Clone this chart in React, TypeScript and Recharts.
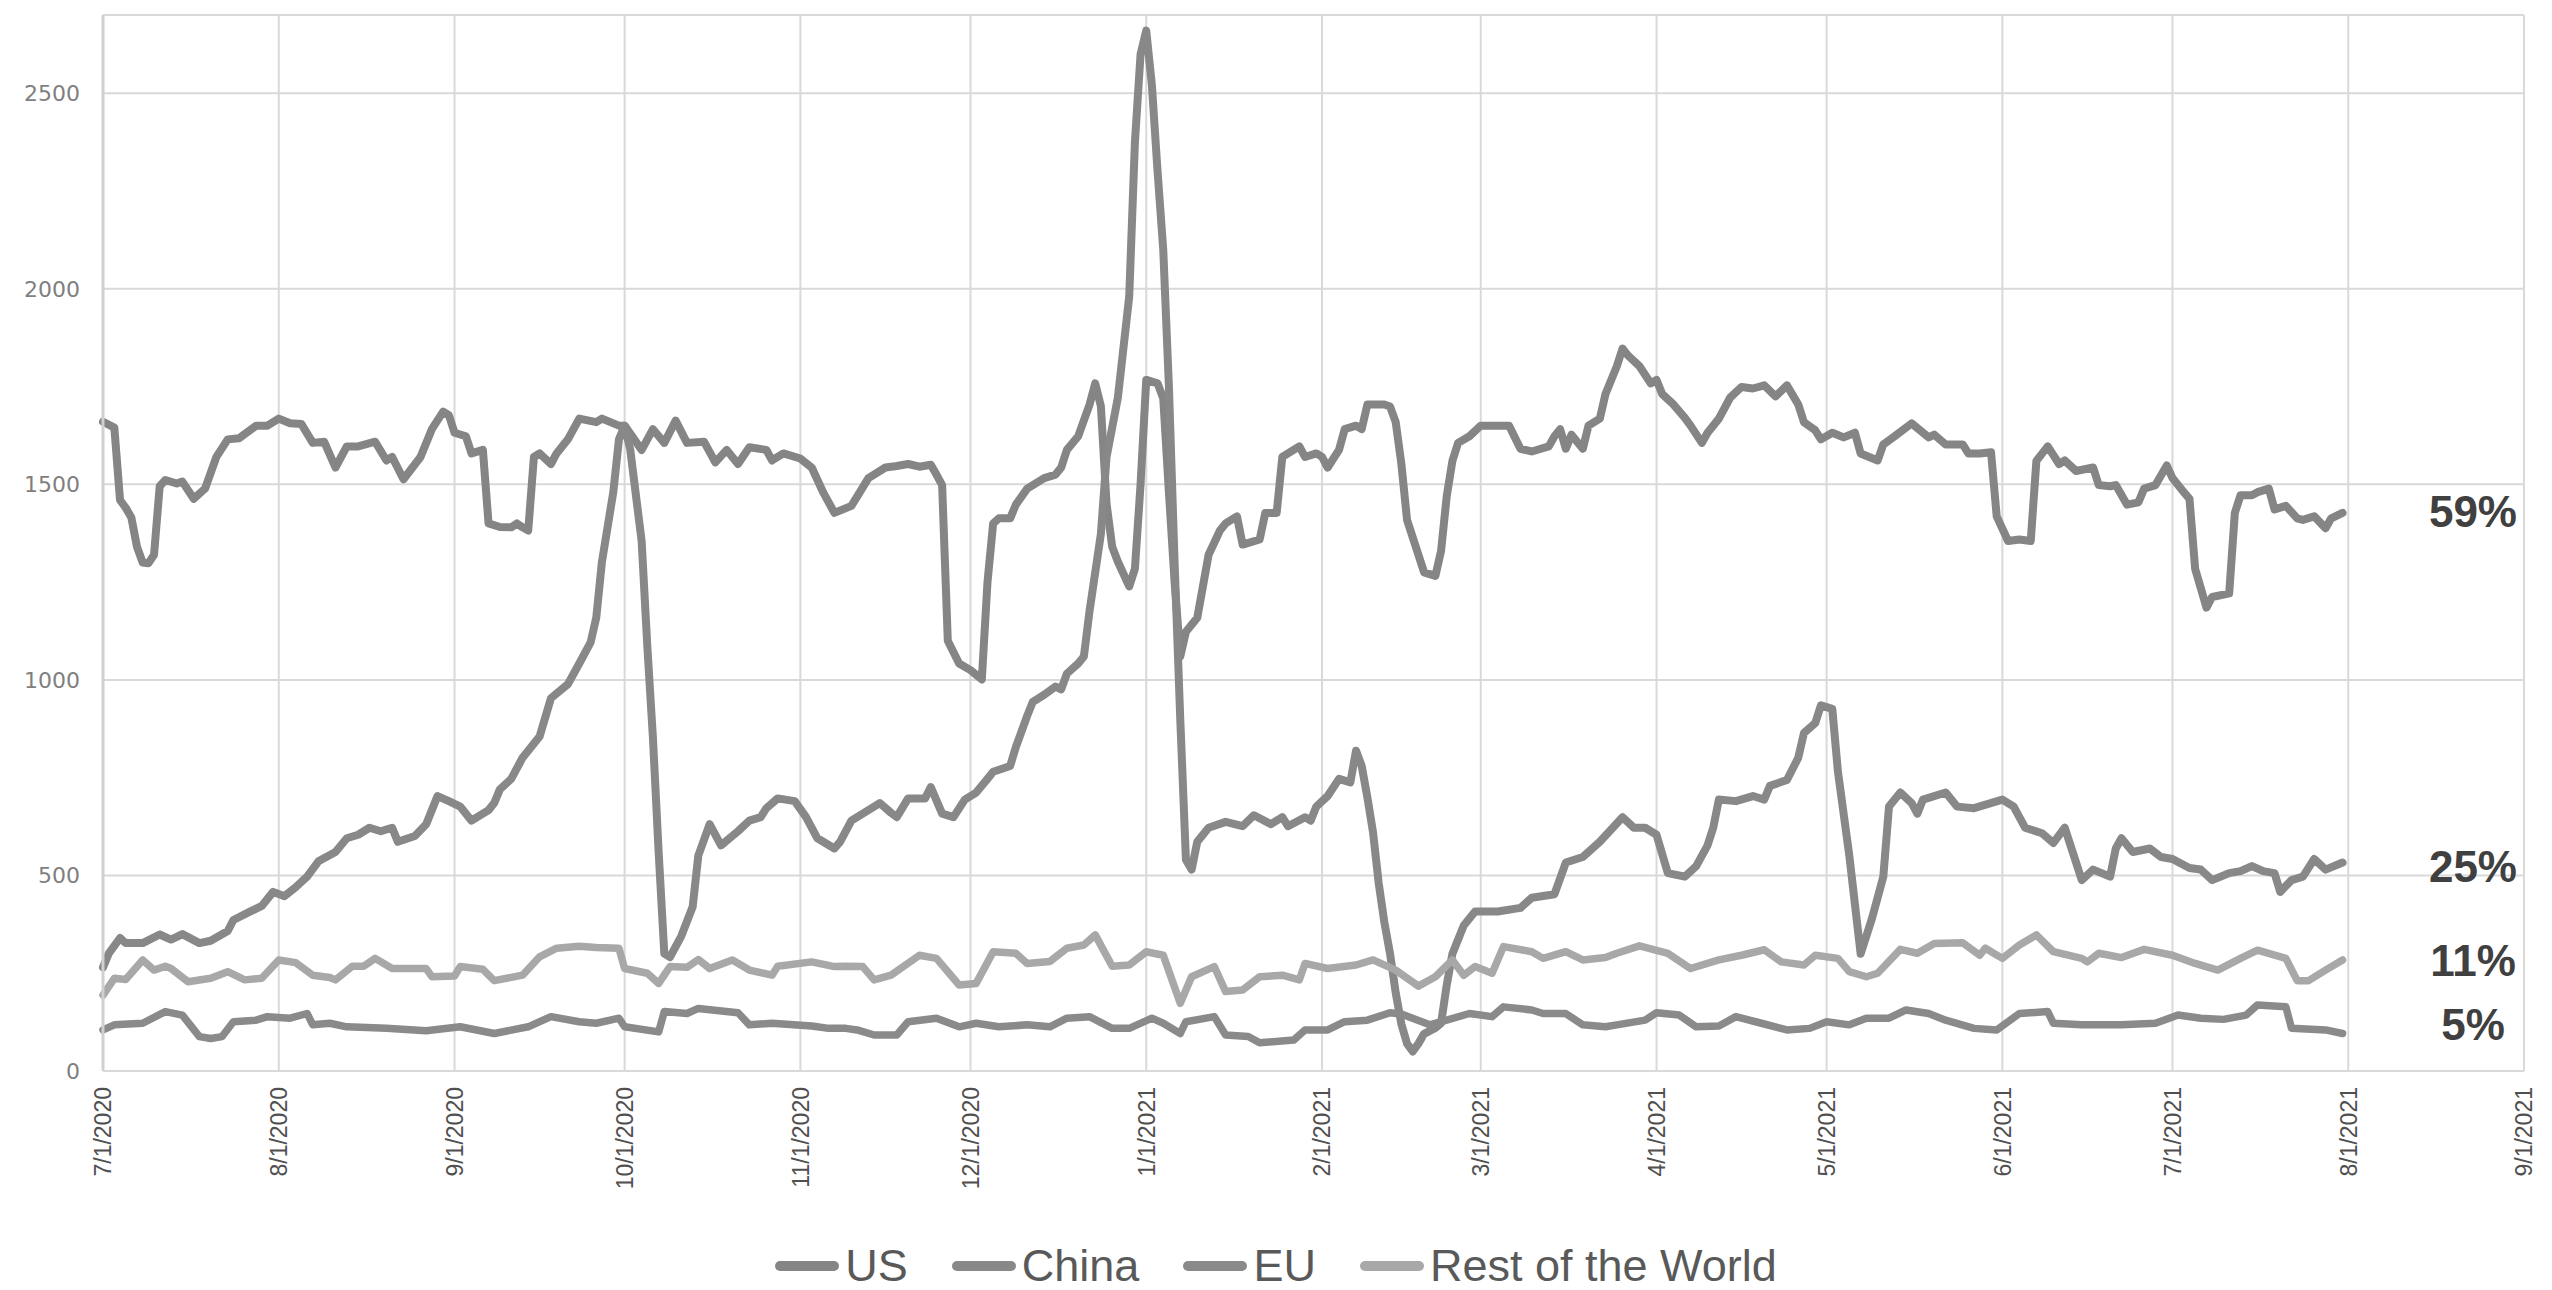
import { CartesianGrid, Line, LineChart, ReferenceDot, XAxis, YAxis } from 'recharts';

// x values are days since 7/1/2020
const TICK_DAYS = [0, 31, 62, 92, 123, 153, 184, 215, 243, 274, 304, 335, 365, 396, 427];
const TICK_LABELS = [
  '7/1/2020', '8/1/2020', '9/1/2020', '10/1/2020', '11/1/2020', '12/1/2020', '1/1/2021',
  '2/1/2021', '3/1/2021', '4/1/2021', '5/1/2021', '6/1/2021', '7/1/2021', '8/1/2021', '9/1/2021',
];
const Y_TICKS = [0, 500, 1000, 1500, 2000, 2500];

const US_POINTS: [number, number][] = [
  [0, 1660], [2, 1645], [3, 1460], [4, 1440], [5, 1415], [6, 1340], [7, 1300], [8, 1298], [9, 1320],
  [10, 1495], [11, 1511], [13, 1502], [14, 1507], [16, 1463], [18, 1489], [20, 1570], [22, 1615],
  [24, 1618], [27, 1650], [29, 1650], [31, 1668], [33, 1656], [35, 1654], [37, 1606], [39, 1609],
  [41, 1543], [43, 1597], [45, 1597], [48, 1609], [50, 1561], [51, 1570], [53, 1513], [56, 1570],
  [58, 1641], [60, 1686], [61, 1677], [62, 1632], [64, 1623], [65, 1579], [67, 1588], [68, 1400],
  [70, 1391], [72, 1390], [73, 1400], [74, 1390], [75, 1382], [76, 1570], [77, 1579], [79, 1552],
  [80, 1579], [82, 1615], [84, 1668], [87, 1659], [88, 1668], [91, 1650], [92, 1650], [95, 1588],
  [97, 1641], [99, 1606], [101, 1663], [103, 1606], [106, 1609], [108, 1556], [110, 1588], [112, 1552],
  [114, 1595], [117, 1588], [118, 1561], [120, 1579], [123, 1566], [125, 1543], [127, 1480], [129, 1427],
  [132, 1445], [135, 1516], [138, 1543], [140, 1547], [142, 1552], [144, 1545], [146, 1550], [147, 1525],
  [148, 1498], [149, 1100], [151, 1042], [153, 1025], [155, 1001], [156, 1250], [157, 1400], [158, 1413],
  [160, 1413], [161, 1448], [163, 1489], [166, 1516], [168, 1525], [169, 1543], [170, 1588], [172, 1623],
  [174, 1704], [175, 1758], [176, 1700], [177, 1450], [178, 1340], [179, 1302], [181, 1239], [182, 1284],
  [183, 1500], [184, 1767], [186, 1758], [187, 1720], [188, 1480], [189, 1250], [190, 1060], [191, 1123],
  [193, 1159], [195, 1320], [197, 1382], [198, 1400], [200, 1418], [201, 1346], [204, 1359], [205, 1427],
  [207, 1427], [208, 1570], [210, 1588], [211, 1597], [212, 1570], [214, 1579], [215, 1570], [216, 1543],
  [218, 1588], [219, 1641], [221, 1650], [222, 1641], [223, 1704], [226, 1704], [227, 1699], [228, 1659],
  [229, 1552], [230, 1409], [232, 1320], [233, 1275], [235, 1266], [236, 1330], [237, 1470], [238, 1560],
  [239, 1606], [241, 1623], [243, 1650], [248, 1650], [250, 1591], [252, 1584], [255, 1597], [256, 1623],
  [257, 1641], [258, 1591], [259, 1627], [261, 1591], [262, 1650], [264, 1668], [265, 1731], [267, 1802],
  [268, 1847], [269, 1829], [271, 1802], [273, 1758], [274, 1767], [275, 1731], [277, 1704], [279, 1670],
  [280, 1650], [282, 1606], [283, 1632], [285, 1668], [287, 1722], [289, 1749], [291, 1745], [293, 1753],
  [295, 1725], [297, 1753], [299, 1704], [300, 1659], [302, 1638], [303, 1615], [305, 1632], [307, 1620],
  [309, 1632], [310, 1579], [313, 1561], [314, 1602], [316, 1623], [319, 1656], [322, 1620], [323, 1627],
  [325, 1602], [328, 1602], [329, 1579], [331, 1579], [333, 1582], [334, 1418], [336, 1355], [338, 1359],
  [340, 1355], [341, 1560], [343, 1597], [345, 1552], [346, 1561], [348, 1534], [351, 1543], [352, 1498],
  [354, 1495], [355, 1498], [357, 1448], [359, 1454], [360, 1489], [362, 1498], [364, 1548], [365, 1516],
  [367, 1480], [368, 1463], [369, 1284], [371, 1185], [372, 1212], [375, 1221], [376, 1427], [377, 1472],
  [379, 1472], [380, 1480], [382, 1489], [383, 1436], [385, 1445], [387, 1413], [388, 1409], [390, 1418],
  [392, 1388], [393, 1413], [395, 1427],
];

const CHINA_POINTS: [number, number][] = [
  [0, 265], [1, 300], [3, 340], [4, 327], [7, 327], [10, 349], [12, 336], [14, 350], [17, 327], [19, 333],
  [22, 358], [23, 386], [26, 408], [28, 422], [30, 458], [32, 447], [34, 470], [36, 497], [38, 536],
  [41, 560], [43, 595], [45, 604], [47, 622], [49, 613], [51, 622], [52, 586], [55, 601], [57, 631],
  [59, 703], [61, 690], [63, 676], [65, 640], [68, 667], [69, 685], [70, 720], [72, 747], [74, 801],
  [77, 855], [79, 953], [82, 989], [84, 1042], [86, 1096], [87, 1159], [88, 1302], [90, 1480], [91, 1615],
  [92, 1650], [93, 1588], [95, 1355], [96, 1087], [97, 850], [98, 560], [99, 300], [100, 291], [102, 345],
  [104, 420], [105, 551], [107, 631], [109, 577], [112, 613], [114, 640], [116, 649], [117, 672],
  [119, 697], [122, 690], [124, 649], [126, 595], [129, 569], [130, 586], [132, 640], [135, 667],
  [137, 685], [139, 660], [140, 649], [142, 697], [145, 697], [146, 726], [148, 658], [150, 649],
  [152, 694], [154, 712], [156, 747], [157, 765], [160, 780], [161, 828], [163, 908], [164, 944],
  [166, 962], [168, 983], [169, 976], [170, 1016], [172, 1042], [173, 1060], [174, 1176], [176, 1373],
  [177, 1570], [179, 1722], [181, 1981], [182, 2374], [183, 2600], [184, 2660], [185, 2520], [186, 2300],
  [187, 2100], [188, 1750], [189, 1300], [190, 900], [191, 540], [192, 515], [193, 586], [195, 622],
  [198, 637], [201, 626], [203, 654], [206, 631], [208, 649], [209, 626], [212, 649], [213, 640],
  [214, 676], [216, 703], [218, 747], [220, 738], [221, 819], [222, 780], [223, 700], [224, 610],
  [225, 480], [226, 380], [227, 300], [228, 200], [229, 120], [230, 70], [231, 50], [232, 70], [233, 95],
  [235, 110], [236, 122], [237, 220], [238, 300], [240, 372], [242, 408], [246, 408], [250, 417],
  [252, 443], [256, 452], [258, 533], [261, 547], [264, 586], [268, 649], [270, 622], [272, 622],
  [274, 604], [276, 506], [279, 497], [281, 524], [283, 577], [284, 622], [285, 694], [288, 690],
  [291, 703], [293, 694], [294, 729], [297, 744], [299, 801], [300, 864], [302, 890], [303, 935],
  [305, 926], [306, 765], [308, 551], [310, 300], [312, 390], [314, 497], [315, 676], [317, 712],
  [319, 685], [320, 658], [321, 694], [325, 712], [327, 676], [330, 672], [335, 694], [337, 676],
  [339, 622], [342, 608], [344, 583], [346, 622], [348, 533], [349, 488], [351, 515], [354, 497],
  [355, 569], [356, 595], [358, 560], [361, 569], [363, 547], [365, 542], [368, 519], [370, 515],
  [372, 488], [375, 506], [377, 511], [379, 524], [381, 511], [383, 506], [384, 458], [386, 488],
  [388, 497], [390, 542], [392, 515], [395, 533],
];

const EU_POINTS: [number, number][] = [
  [0, 105], [2, 118], [7, 122], [11, 152], [14, 143], [17, 88], [19, 83], [21, 88], [23, 126], [27, 130],
  [29, 139], [33, 135], [36, 147], [37, 118], [40, 122], [43, 113], [50, 109], [57, 103], [63, 113],
  [69, 96], [75, 113], [79, 139], [84, 126], [87, 122], [91, 135], [92, 113], [98, 100], [99, 152],
  [103, 147], [105, 160], [112, 149], [114, 118], [118, 122], [125, 115], [128, 109], [131, 109],
  [133, 105], [136, 92], [140, 92], [142, 126], [147, 135], [151, 113], [154, 122], [158, 113],
  [163, 118], [167, 113], [170, 135], [174, 139], [178, 109], [181, 109], [185, 135], [187, 122],
  [190, 96], [191, 126], [196, 139], [198, 92], [202, 88], [204, 72], [210, 79], [212, 105], [216, 105],
  [219, 126], [223, 130], [227, 149], [229, 146], [234, 118], [237, 130], [241, 147], [245, 139],
  [247, 164], [252, 156], [254, 147], [258, 147], [261, 118], [265, 113], [267, 118], [272, 130],
  [274, 149], [278, 143], [281, 113], [285, 115], [288, 139], [292, 124], [297, 105], [301, 109],
  [304, 126], [308, 118], [311, 135], [315, 135], [318, 156], [322, 147], [325, 130], [330, 109],
  [334, 105], [338, 147], [343, 152], [344, 122], [349, 118], [356, 118], [362, 122], [366, 143],
  [370, 135], [374, 132], [378, 143], [380, 169], [385, 164], [386, 109], [392, 105], [395, 96],
];

const ROW_POINTS: [number, number][] = [
  [0, 194], [2, 237], [4, 234], [7, 284], [9, 258], [11, 268], [12, 262], [15, 228], [19, 237], [22, 254],
  [25, 233], [28, 237], [31, 284], [34, 277], [37, 245], [40, 239], [41, 233], [44, 268], [46, 268],
  [48, 288], [51, 262], [57, 262], [58, 241], [62, 243], [63, 267], [67, 260], [69, 231], [74, 245],
  [77, 292], [80, 314], [84, 319], [87, 316], [91, 314], [92, 262], [96, 250], [98, 224], [100, 267],
  [103, 265], [105, 285], [107, 262], [111, 284], [114, 258], [118, 245], [119, 268], [125, 279],
  [129, 267], [131, 268], [134, 267], [136, 233], [139, 245], [144, 296], [147, 288], [151, 220],
  [154, 224], [157, 305], [161, 301], [163, 275], [167, 280], [170, 314], [173, 322], [175, 348],
  [178, 268], [181, 271], [184, 305], [187, 296], [190, 173], [192, 241], [196, 267], [198, 203],
  [201, 207], [204, 241], [208, 245], [211, 233], [212, 275], [216, 262], [221, 271], [224, 284],
  [228, 258], [232, 217], [235, 241], [238, 284], [240, 245], [242, 267], [245, 250], [247, 318],
  [252, 305], [254, 288], [258, 305], [261, 284], [265, 290], [267, 301], [271, 320], [276, 301],
  [280, 262], [285, 284], [289, 296], [293, 310], [296, 279], [300, 271], [302, 296], [306, 288],
  [308, 254], [311, 241], [313, 250], [317, 311], [320, 301], [323, 326], [328, 328], [331, 296],
  [332, 314], [335, 288], [338, 322], [341, 348], [344, 305], [349, 288], [350, 279], [352, 301],
  [356, 290], [360, 311], [365, 296], [369, 275], [373, 258], [377, 288], [380, 309], [385, 288],
  [387, 231], [389, 231], [392, 258], [395, 284],
];

// share of total shown at the right end of the chart
const SHARE_TEXT = ['59%', '25%', '11%', '5%'];
const SHARE_AT = [1430, 522, 284, 118];
const SHARE_DAY = 418;

const SERIES = [
  { name: 'US', points: US_POINTS, color: '#858585', width: 8 },
  { name: 'China', points: CHINA_POINTS, color: '#888888', width: 8 },
  { name: 'EU', points: EU_POINTS, color: '#8a8a8a', width: 7.5 },
  { name: 'Rest of the World', points: ROW_POINTS, color: '#a8a8a8', width: 7.5 },
];

const toRows = (points: [number, number][]) => points.map(([day, value]) => ({ day, value }));

function DateTick({ x, y, payload }: any) {
  const label = TICK_LABELS[TICK_DAYS.indexOf(payload.value)];
  return (
    <g transform={`translate(${x},${y})`}>
      <text
        transform="rotate(-90)"
        textAnchor="end"
        dy="0.36em"
        fontSize={23}
        fill="#505050"
        fontFamily="'Liberation Sans', Arial, sans-serif"
      >
        {label}
      </text>
    </g>
  );
}

export default function App() {
  return (
    <div style={{ position: 'relative', width: 2552, height: 1290, background: '#fff' }}>
      <style>{'body{margin:0}'}</style>
      <LineChart width={2552} height={1290} margin={{ top: 15, right: 28, bottom: 0, left: 0 }}>
        <CartesianGrid stroke="#d9d9d9" strokeWidth={2} />
        <XAxis
          type="number"
          dataKey="day"
          domain={[0, 427]}
          ticks={TICK_DAYS}
          interval={0}
          tick={<DateTick />}
          tickLine={false}
          tickSize={0}
          tickMargin={16}
          axisLine={{ stroke: '#d9d9d9', strokeWidth: 2 }}
          height={219}
        />
        <YAxis
          type="number"
          domain={[0, 2700]}
          ticks={Y_TICKS}
          width={103}
          tickLine={false}
          tickSize={0}
          tickMargin={23}
          axisLine={{ stroke: '#d0d0d0', strokeWidth: 3 }}
          tick={{ fontSize: 22, fill: '#7f7f7f', fontFamily: "'DejaVu Sans', sans-serif" }}
        />
        {SERIES.map((s) => (
          <Line
            key={s.name}
            data={toRows(s.points)}
            dataKey="value"
            name={s.name}
            type="linear"
            stroke={s.color}
            strokeWidth={s.width}
            strokeLinejoin="round"
            strokeLinecap="round"
            dot={false}
            activeDot={false}
            isAnimationActive={false}
          />
        ))}
        {SHARE_TEXT.map((text, i) => (
          <ReferenceDot
            key={text}
            x={SHARE_DAY}
            y={SHARE_AT[i]}
            r={0}
            fill="none"
            stroke="none"
            label={{
              value: text,
              position: 'center',
              fill: '#404040',
              fontSize: 44,
              fontWeight: 700,
              fontFamily: "'Liberation Sans', Arial, sans-serif",
            }}
          />
        ))}
      </LineChart>
      <div
        style={{
          position: 'absolute',
          left: 0,
          top: 1236,
          width: 2552,
          height: 60,
          display: 'flex',
          justifyContent: 'center',
          alignItems: 'center',
          gap: 44,
          fontFamily: "'Liberation Sans', Arial, sans-serif",
          fontSize: 45,
          color: '#595959',
        }}
      >
        {SERIES.map((s) => (
          <span key={s.name} style={{ display: 'flex', alignItems: 'center' }}>
            <span
              style={{
                display: 'inline-block',
                width: 64,
                height: 10,
                borderRadius: 5,
                background: s.color,
                marginRight: 6,
              }}
            />
            {s.name}
          </span>
        ))}
      </div>
    </div>
  );
}
